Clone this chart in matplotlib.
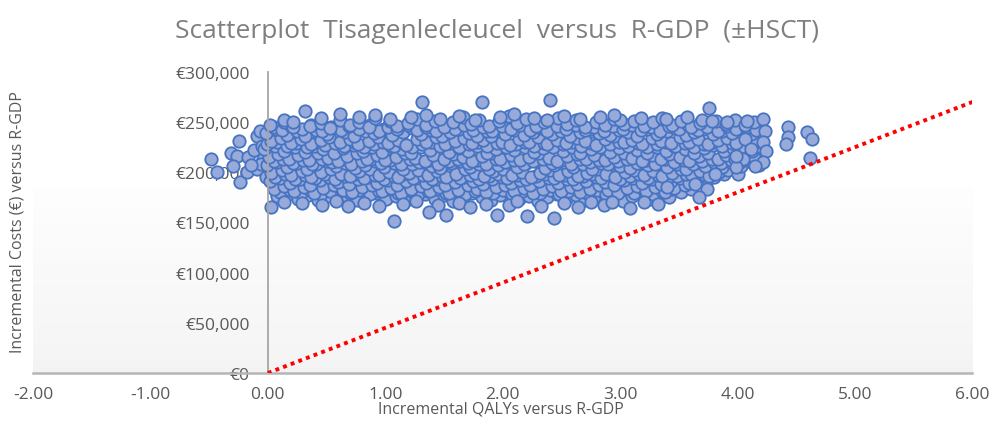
import numpy as np
import matplotlib
matplotlib.use('Agg')
import matplotlib.pyplot as plt
from matplotlib.ticker import FuncFormatter

# PSA cloud: (incremental QALYs, incremental costs in kEUR)
left_tail = [(-0.48, 213), (-0.43, 200), (-0.31, 219), (-0.26, 216), (-0.25, 231), (-0.17, 215),
             (-0.24, 190), (-0.30, 206), (-0.18, 200), (-0.09, 236), (-0.07, 241), (-0.09, 203),
             (-0.04, 213), (-0.12, 222), (-0.05, 226), (-0.02, 195), (-0.06, 208), (-0.14, 207)]

top_edge = [(0.14, 252), (0.45, 254), (0.61, 258), (0.91, 257), (1.04, 253), (1.22, 255), (1.47, 253),
            (1.63, 256), (1.76, 252), (1.98, 255), (2.10, 258), (2.27, 254), (2.52, 256), (2.66, 253),
            (2.83, 255), (3.00, 252), (3.18, 254), (3.39, 253), (3.57, 255), (3.70, 252), (0.78, 255),
            (1.35, 257), (2.38, 252), (2.95, 257), (0.32, 261), (0.21, 250)]

band_248 = [(0.02, 247), (0.14, 250), (0.21, 245), (0.36, 246), (0.45, 249), (0.53, 244), (0.61, 252),
            (0.70, 247), (0.78, 250), (0.86, 245), (0.91, 254), (1.04, 251), (1.10, 246), (1.19, 249),
            (1.27, 253), (1.35, 247), (1.42, 251), (1.50, 245), (1.58, 250), (1.66, 255), (1.73, 248),
            (1.80, 252), (1.88, 246), (1.97, 251), (2.05, 256), (2.12, 249), (2.20, 253), (2.28, 246),
            (2.35, 250), (2.47, 254), (2.55, 248), (2.62, 252), (2.70, 245), (2.79, 250), (2.87, 247),
            (2.95, 253), (3.03, 248), (3.12, 251), (3.20, 246), (3.28, 250), (3.36, 254), (3.44, 247),
            (3.52, 251), (3.60, 245), (3.68, 249), (3.82, 251), (3.90, 248), (3.98, 252), (4.06, 247),
            (4.14, 250)]

band_244 = [(0.05, 245), (0.12, 242), (0.20, 246), (0.29, 243), (0.37, 247), (0.46, 241), (0.54, 245),
            (0.62, 242), (0.69, 246), (0.78, 243), (0.87, 247), (0.95, 241), (1.02, 245), (1.10, 243),
            (1.19, 247), (1.27, 242), (1.35, 245), (1.43, 241), (1.51, 246), (1.59, 243), (1.67, 247),
            (1.75, 242), (1.83, 245), (1.91, 241), (1.99, 246), (2.07, 243), (2.15, 247), (2.23, 242),
            (2.30, 245), (2.38, 241), (2.46, 246), (2.54, 243), (2.62, 247), (2.70, 242), (2.78, 245),
            (2.86, 241), (2.94, 246), (3.02, 243), (3.10, 247), (3.18, 242), (3.26, 245), (3.34, 241),
            (3.42, 246), (3.50, 243), (3.58, 247), (3.66, 242), (3.74, 245), (3.83, 241), (3.91, 246),
            (3.99, 243), (4.07, 245), (4.16, 242)]

band_240 = [(-0.02, 239), (0.07, 243), (0.16, 237), (0.25, 241), (0.32, 236), (0.41, 242), (0.50, 238),
            (0.57, 244), (0.66, 240), (0.73, 236), (0.83, 241), (0.90, 239), (0.99, 243), (1.06, 237),
            (1.15, 240), (1.23, 244), (1.30, 238), (1.39, 242), (1.48, 236), (1.55, 240), (1.63, 243),
            (1.71, 239), (1.78, 236), (1.87, 241), (1.95, 244), (2.02, 238), (2.10, 242), (2.18, 237),
            (2.26, 240), (2.33, 244), (2.42, 238), (2.50, 241), (2.57, 236), (2.66, 240), (2.75, 243),
            (2.82, 239), (2.91, 237), (2.99, 242), (3.07, 240), (3.14, 236), (3.23, 243), (3.31, 238),
            (3.40, 241), (3.47, 244), (3.56, 237), (3.63, 240), (3.72, 243), (3.79, 238), (3.87, 241),
            (3.95, 239), (4.03, 243), (4.11, 238), (4.19, 241)]

band_232 = [(0.03, 231), (0.11, 234), (0.20, 229), (0.28, 233), (0.37, 228), (0.45, 232), (0.52, 235),
            (0.61, 230), (0.70, 233), (0.77, 228), (0.86, 231), (0.94, 235), (1.02, 229), (1.11, 232),
            (1.18, 227), (1.27, 233), (1.35, 230), (1.43, 235), (1.51, 228), (1.59, 231), (1.67, 234),
            (1.74, 229), (1.83, 232), (1.90, 236), (1.99, 230), (2.06, 227), (2.14, 233), (2.22, 230),
            (2.30, 235), (2.38, 228), (2.46, 232), (2.54, 229), (2.63, 234), (2.70, 231), (2.79, 227),
            (2.87, 233), (2.95, 236), (3.03, 230), (3.10, 232), (3.19, 228), (3.27, 234), (3.35, 231),
            (3.43, 229), (3.51, 235), (3.59, 230), (3.66, 233), (3.75, 228), (3.83, 232), (3.91, 234),
            (3.99, 229), (4.07, 233), (4.15, 230)]

band_228 = [(-0.01, 228), (0.08, 230), (0.16, 226), (0.24, 229), (0.33, 225), (0.41, 230), (0.49, 227),
            (0.57, 229), (0.65, 226), (0.73, 230), (0.82, 225), (0.90, 228), (0.98, 230), (1.07, 226),
            (1.15, 229), (1.23, 225), (1.31, 228), (1.39, 230), (1.47, 226), (1.55, 229), (1.63, 225),
            (1.71, 228), (1.79, 230), (1.87, 226), (1.95, 229), (2.03, 225), (2.11, 228), (2.19, 230),
            (2.27, 226), (2.35, 229), (2.43, 225), (2.51, 228), (2.59, 230), (2.67, 226), (2.75, 229),
            (2.83, 225), (2.91, 228), (2.99, 230), (3.07, 226), (3.15, 229), (3.23, 225), (3.31, 228),
            (3.39, 230), (3.47, 226), (3.55, 229), (3.63, 225), (3.71, 228), (3.79, 230), (3.87, 226),
            (3.95, 229), (4.03, 225), (4.11, 228), (4.19, 231)]

band_224 = [(-0.03, 223), (0.06, 226), (0.14, 221), (0.23, 225), (0.32, 220), (0.40, 226), (0.47, 223),
            (0.56, 219), (0.64, 224), (0.73, 227), (0.81, 221), (0.89, 225), (0.97, 220), (1.05, 226),
            (1.14, 223), (1.22, 219), (1.30, 225), (1.38, 222), (1.46, 227), (1.54, 220), (1.63, 224),
            (1.70, 221), (1.78, 226), (1.87, 219), (1.94, 223), (2.03, 227), (2.10, 222), (2.19, 225),
            (2.27, 220), (2.34, 224), (2.43, 227), (2.51, 221), (2.59, 225), (2.66, 219), (2.75, 223),
            (2.83, 226), (2.91, 220), (2.99, 224), (3.07, 227), (3.14, 222), (3.23, 219), (3.31, 225),
            (3.39, 221), (3.46, 226), (3.55, 223), (3.63, 219), (3.71, 224), (3.79, 227), (3.88, 221),
            (3.96, 224), (4.04, 227), (4.12, 221), (4.20, 225)]

band_216 = [(0.01, 215), (0.09, 218), (0.18, 213), (0.26, 217), (0.35, 212), (0.43, 219), (0.51, 214),
            (0.60, 211), (0.67, 216), (0.76, 219), (0.84, 213), (0.93, 217), (1.00, 212), (1.09, 215),
            (1.17, 219), (1.25, 214), (1.34, 211), (1.41, 217), (1.50, 213), (1.58, 218), (1.66, 215),
            (1.74, 211), (1.82, 216), (1.91, 219), (1.98, 213), (2.07, 217), (2.15, 212), (2.22, 215),
            (2.31, 219), (2.39, 214), (2.46, 211), (2.55, 216), (2.63, 218), (2.71, 213), (2.78, 217),
            (2.87, 212), (2.95, 215), (3.03, 219), (3.10, 214), (3.19, 211), (3.27, 217), (3.35, 213),
            (3.42, 218), (3.51, 215), (3.59, 211), (3.67, 216), (3.75, 219), (3.83, 213), (3.90, 217),
            (3.98, 213), (4.06, 218), (4.14, 215)]

band_212 = [(0.05, 211), (0.13, 213), (0.21, 209), (0.30, 212), (0.38, 208), (0.46, 213), (0.55, 210),
            (0.63, 213), (0.71, 208), (0.80, 211), (0.88, 213), (0.96, 209), (1.04, 212), (1.13, 208),
            (1.21, 213), (1.29, 210), (1.37, 212), (1.45, 208), (1.54, 211), (1.62, 213), (1.70, 209),
            (1.78, 212), (1.86, 208), (1.94, 213), (2.02, 210), (2.10, 212), (2.18, 208), (2.26, 211),
            (2.34, 213), (2.42, 209), (2.50, 212), (2.58, 208), (2.66, 213), (2.74, 210), (2.82, 212),
            (2.90, 208), (2.98, 211), (3.06, 213), (3.14, 209), (3.22, 212), (3.30, 208), (3.38, 213),
            (3.46, 210), (3.54, 212), (3.62, 208), (3.70, 211), (3.78, 213), (3.86, 209), (3.94, 212),
            (4.02, 210), (4.10, 213), (4.18, 211)]

band_208 = [(-0.01, 207), (0.08, 210), (0.16, 205), (0.25, 209), (0.33, 203), (0.41, 208), (0.50, 211),
            (0.58, 206), (0.66, 209), (0.74, 204), (0.83, 207), (0.91, 211), (0.99, 205), (1.07, 209),
            (1.15, 203), (1.23, 208), (1.32, 210), (1.40, 206), (1.47, 204), (1.56, 209), (1.64, 211),
            (1.72, 205), (1.80, 208), (1.88, 203), (1.96, 207), (2.04, 210), (2.12, 205), (2.20, 209),
            (2.28, 211), (2.36, 204), (2.44, 207), (2.52, 210), (2.60, 205), (2.68, 208), (2.76, 203),
            (2.84, 209), (2.92, 211), (3.00, 206), (3.08, 204), (3.16, 209), (3.24, 207), (3.32, 211),
            (3.40, 205), (3.48, 208), (3.56, 203), (3.64, 209), (3.72, 206), (3.80, 210), (3.87, 205),
            (3.95, 209), (4.03, 206), (4.11, 210), (4.18, 207)]

band_200 = [(0.03, 199), (0.12, 202), (0.20, 197), (0.29, 201), (0.37, 195), (0.45, 200), (0.54, 203),
            (0.62, 198), (0.70, 196), (0.78, 201), (0.87, 203), (0.95, 197), (1.03, 200), (1.11, 195),
            (1.20, 199), (1.28, 202), (1.36, 197), (1.44, 201), (1.52, 195), (1.60, 198), (1.68, 203),
            (1.76, 199), (1.84, 196), (1.92, 201), (2.00, 203), (2.08, 197), (2.16, 200), (2.24, 195),
            (2.32, 199), (2.40, 202), (2.48, 197), (2.56, 201), (2.64, 196), (2.72, 199), (2.80, 203),
            (2.88, 198), (2.96, 195), (3.04, 200), (3.12, 202), (3.20, 197), (3.28, 201), (3.36, 196),
            (3.44, 199), (3.52, 203), (3.60, 198), (3.68, 201), (3.76, 196), (3.84, 200), (3.92, 202),
            (4.00, 198)]

band_196 = [(0.06, 195), (0.15, 198), (0.23, 193), (0.32, 197), (0.40, 194), (0.49, 198), (0.57, 193),
            (0.66, 196), (0.74, 198), (0.82, 194), (0.91, 197), (0.99, 193), (1.07, 196), (1.15, 198),
            (1.24, 194), (1.32, 197), (1.40, 193), (1.48, 196), (1.56, 198), (1.64, 194), (1.72, 197),
            (1.80, 193), (1.88, 196), (1.96, 198), (2.04, 194), (2.12, 197), (2.20, 193), (2.28, 196),
            (2.36, 198), (2.44, 194), (2.52, 197), (2.60, 193), (2.68, 196), (2.76, 198), (2.84, 194),
            (2.92, 197), (3.00, 193), (3.08, 196), (3.16, 198), (3.24, 194), (3.32, 197), (3.40, 193),
            (3.48, 196), (3.56, 198), (3.64, 194), (3.72, 197), (3.80, 195), (3.88, 198)]

band_192 = [(0.02, 191), (0.10, 194), (0.19, 189), (0.27, 193), (0.36, 187), (0.44, 192), (0.52, 195),
            (0.60, 190), (0.69, 188), (0.77, 193), (0.85, 195), (0.93, 189), (1.02, 192), (1.10, 187),
            (1.18, 191), (1.26, 194), (1.35, 189), (1.43, 193), (1.51, 187), (1.59, 190), (1.67, 195),
            (1.75, 191), (1.83, 188), (1.91, 193), (1.99, 195), (2.07, 189), (2.15, 192), (2.23, 187),
            (2.31, 191), (2.39, 194), (2.47, 189), (2.55, 193), (2.63, 188), (2.71, 191), (2.79, 195),
            (2.87, 190), (2.95, 187), (3.03, 192), (3.11, 194), (3.19, 189), (3.27, 193), (3.35, 188),
            (3.43, 191), (3.51, 194), (3.59, 189), (3.67, 192), (3.75, 193)]

band_184 = [(0.05, 183), (0.14, 186), (0.22, 181), (0.31, 185), (0.39, 179), (0.47, 184), (0.56, 187),
            (0.64, 182), (0.72, 180), (0.80, 185), (0.89, 187), (0.97, 181), (1.05, 184), (1.13, 179),
            (1.22, 183), (1.30, 186), (1.38, 181), (1.46, 185), (1.54, 179), (1.62, 182), (1.70, 187),
            (1.78, 183), (1.86, 180), (1.94, 185), (2.02, 187), (2.10, 181), (2.18, 184), (2.26, 179),
            (2.34, 183), (2.42, 186), (2.50, 181), (2.58, 185), (2.66, 180), (2.74, 183), (2.82, 187),
            (2.90, 182), (2.98, 179), (3.06, 184), (3.14, 186), (3.22, 181), (3.30, 185), (3.38, 180),
            (3.46, 184), (3.55, 187)]

band_180 = [(0.10, 180), (0.19, 182), (0.28, 179), (0.36, 182), (0.45, 178), (0.53, 181), (0.62, 183),
            (0.70, 179), (0.78, 182), (0.87, 178), (0.95, 181), (1.03, 183), (1.11, 179), (1.19, 182),
            (1.28, 178), (1.36, 181), (1.44, 183), (1.52, 179), (1.60, 182), (1.68, 178), (1.76, 181),
            (1.84, 183), (1.92, 179), (2.00, 182), (2.08, 178), (2.16, 181), (2.24, 183), (2.32, 179),
            (2.40, 182), (2.48, 178), (2.56, 181), (2.64, 183), (2.72, 179), (2.80, 182), (2.88, 178),
            (2.96, 181), (3.04, 183), (3.12, 179), (3.20, 182), (3.28, 178), (3.36, 181), (3.44, 183),
            (3.52, 180), (3.60, 183)]

band_176 = [(0.08, 176), (0.17, 178), (0.26, 173), (0.34, 177), (0.43, 172), (0.51, 176), (0.59, 179),
            (0.68, 174), (0.76, 172), (0.84, 177), (0.93, 179), (1.01, 173), (1.09, 176), (1.17, 171),
            (1.26, 175), (1.34, 178), (1.42, 173), (1.50, 177), (1.58, 171), (1.66, 174), (1.74, 179),
            (1.82, 175), (1.90, 172), (1.98, 177), (2.06, 179), (2.14, 173), (2.22, 176), (2.30, 171),
            (2.38, 175), (2.46, 178), (2.54, 173), (2.62, 177), (2.70, 172), (2.78, 175), (2.86, 179),
            (2.94, 174), (3.02, 171), (3.10, 176), (3.18, 178), (3.26, 173), (3.34, 177), (3.42, 175)]

bottom_edge = [(0.03, 165), (0.14, 170), (0.29, 169), (0.46, 167), (0.58, 171), (0.68, 166), (0.82, 169),
               (0.95, 166), (1.15, 168), (1.26, 171), (1.45, 167), (1.63, 169), (1.72, 165), (1.86, 168),
               (2.05, 167), (2.12, 171), (2.33, 166), (2.52, 169), (2.64, 165), (2.75, 170), (2.86, 167),
               (3.20, 170), (3.32, 168), (1.07, 151), (1.37, 160), (1.52, 157), (1.95, 157), (2.21, 156),
               (2.44, 154), (2.93, 170), (3.08, 164)]

right_tail = [(3.76, 264), (3.78, 251), (3.91, 250), (4.08, 251), (4.22, 253), (4.23, 241), (4.22, 230),
              (4.24, 221), (4.22, 210), (4.43, 245), (4.43, 235), (4.41, 228), (4.59, 240), (4.63, 233),
              (4.62, 214), (4.06, 233), (4.05, 213), (4.15, 206), (3.99, 205), (3.74, 183), (3.67, 175),
              (3.64, 188), (3.40, 185), (3.81, 198), (4.11, 223), (3.99, 216)]

top_outliers = [(1.31, 270), (1.82, 270), (2.40, 272)]

# willingness-to-pay line
wtp_qaly = [0, 6]
wtp_cost = [0, 270000]

x_ticks = [-2, -1, 0, 1, 2, 3, 4, 5, 6]
y_ticks = [0, 50000, 100000, 150000, 200000, 250000, 300000]

groups = [left_tail, band_176, band_180, band_184, band_192, band_196, band_200, band_208, band_212,
          band_216, band_224, band_228, band_232, band_240, band_244, band_248, top_edge, bottom_edge,
          right_tail, top_outliers]
qaly = [p[0] for g in groups for p in g]
cost = [p[1] * 1000 for g in groups for p in g]

plt.rcParams['font.family'] = ['Open Sans', 'DejaVu Sans']
grey = '#595959'

fig = plt.figure(figsize=(9.91, 4.39), dpi=100)
ax = fig.add_axes([0.0333, 0.148, 0.948, 0.686])

# very faint grey shading in the lower part of the plot area
shade = np.linspace(0.992, 0.955, 50).reshape(-1, 1)
ax.imshow(shade, extent=[-2, 6, 0, 185000], aspect='auto', cmap='gray', vmin=0, vmax=1,
          origin='upper', zorder=0, interpolation='bicubic')

ax.scatter(qaly, cost, s=80, facecolor='#97aad9', edgecolor='#4673c2', linewidth=1.3, zorder=2)
ax.plot(wtp_qaly, wtp_cost, color='#ff0000', lw=2.8, ls=(0, (1, 1.1)), zorder=3)

ax.set_xlim(-2, 6)
ax.set_ylim(0, 300000)
ax.set_xticks(x_ticks)
ax.set_yticks(y_ticks)
ax.xaxis.set_major_formatter(FuncFormatter(lambda v, p: '%.2f' % v))
ax.yaxis.set_major_formatter(FuncFormatter(lambda v, p: '€{:,.0f}'.format(v)))

for s in ['top', 'right']:
    ax.spines[s].set_visible(False)
ax.spines['left'].set_position(('data', 0))
ax.spines['left'].set_color('#a6a6a6')
ax.spines['left'].set_linewidth(1.3)
ax.spines['bottom'].set_color('#b5b5b5')
ax.spines['bottom'].set_linewidth(1.8)
ax.tick_params(axis='both', length=0, labelsize=12.5, labelcolor=grey)
ax.tick_params(axis='y', pad=13)
ax.tick_params(axis='x', pad=9)

fig.text(0.502, 1 - 32 / 439, 'Scatterplot  Tisagenlecleucel  versus  R-GDP  (±HSCT)',
         ha='center', va='center', fontsize=19, color='#7f7f7f')
fig.text(0.505, 1 - 410 / 439, 'Incremental QALYs versus R-GDP', ha='center', va='center',
         fontsize=11.5, color=grey)
fig.text(18 / 991, 1 - 222 / 439, 'Incremental Costs (€) versus R-GDP', ha='center', va='center',
         rotation=90, fontsize=11.5, color=grey)

plt.savefig('out.png', dpi=100)
